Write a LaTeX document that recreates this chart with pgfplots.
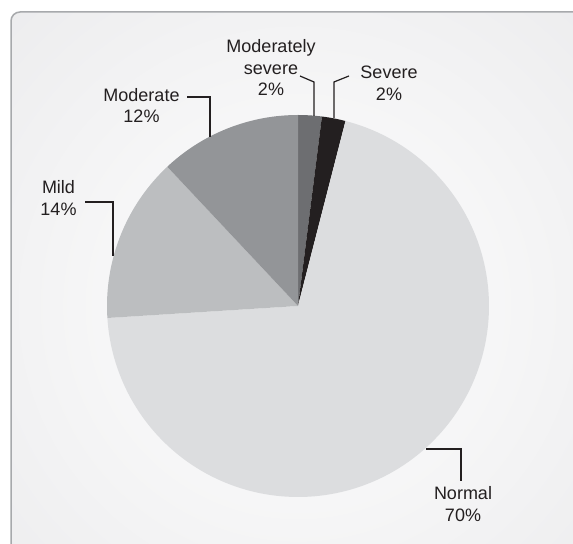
\documentclass[border=0pt]{standalone}
\usepackage{pgfplots}
\pgfplotsset{compat=1.18}
\usepackage{pgfplotstable}
\usepackage{fontspec}
\setmainfont{Liberation Sans}

\definecolor{cModSev}{HTML}{6D6E71}
\definecolor{cSevere}{HTML}{231F20}
\definecolor{cNormal}{HTML}{DCDDDF}
\definecolor{cMild}{HTML}{BCBEC0}
\definecolor{cModerate}{HTML}{939598}
\definecolor{cFrame}{HTML}{A7A9AC}
\definecolor{cBgOut}{HTML}{E6E6E8}
\definecolor{cLead}{HTML}{231F20}

% Severity distribution, in percent, clockwise from 12 o'clock
\pgfplotstableread[col sep=comma]{
label,value
Moderately severe,2
Severe,2
Normal,70
Mild,14
Moderate,12
}\severity

% cumulative slice boundaries (degrees), going clockwise from 90
\pgfmathsetmacro\aA{90}
\pgfplotstablegetelem{0}{value}\of\severity \pgfmathsetmacro\aB{\aA-3.6*\pgfplotsretval}
\pgfplotstablegetelem{1}{value}\of\severity \pgfmathsetmacro\aC{\aB-3.6*\pgfplotsretval}
\pgfplotstablegetelem{2}{value}\of\severity \pgfmathsetmacro\aD{\aC-3.6*\pgfplotsretval}
\pgfplotstablegetelem{3}{value}\of\severity \pgfmathsetmacro\aE{\aD-3.6*\pgfplotsretval}
\pgfplotstablegetelem{4}{value}\of\severity \pgfmathsetmacro\aF{\aE-3.6*\pgfplotsretval}

\newcommand\cx{298}
\newcommand\cy{238}
\newcommand\rr{191}
\newcommand\lbl{\fontsize{18bp}{21.5bp}\selectfont\color[HTML]{231F20}}

\begin{document}
\begin{tikzpicture}
\begin{axis}[
  scale only axis, width=573bp, height=544bp,
  xmin=0, xmax=573, ymin=0, ymax=544,
  hide axis, clip=false,
]
% page and framed panel with soft radial background
\fill[white] (0,0) rectangle (573,544);
\begin{scope}
  \clip[rounded corners=9bp] (11,-20) -- (11,532) -- (600,532) -- (600,-20) -- cycle;
  \shade[inner color=white, outer color=cBgOut] (\cx,\cy) circle (560);
\end{scope}
\draw[cFrame, line width=1.5bp, rounded corners=9bp] (11,-20) -- (11,532) -- (600,532);

% slices
\addplot[fill=cModSev, draw=none, domain=\aB:\aA, samples=8, variable=\t]
  ({\cx+\rr*cos(\t)},{\cy+\rr*sin(\t)}) -- (\cx,\cy) -- cycle;
\addplot[fill=cSevere, draw=none, domain=\aC:\aB, samples=8, variable=\t]
  ({\cx+\rr*cos(\t)},{\cy+\rr*sin(\t)}) -- (\cx,\cy) -- cycle;
\addplot[fill=cNormal, draw=none, domain=\aD:\aC, samples=150, variable=\t]
  ({\cx+\rr*cos(\t)},{\cy+\rr*sin(\t)}) -- (\cx,\cy) -- cycle;
\addplot[fill=cMild, draw=none, domain=\aE:\aD, samples=40, variable=\t]
  ({\cx+\rr*cos(\t)},{\cy+\rr*sin(\t)}) -- (\cx,\cy) -- cycle;
\addplot[fill=cModerate, draw=none, domain=\aF:\aE, samples=40, variable=\t]
  ({\cx+\rr*cos(\t)},{\cy+\rr*sin(\t)}) -- (\cx,\cy) -- cycle;

% leader lines
\draw[cLead, line width=1.2bp] (300,468) -- (314,462) -- (314,428);
\draw[cLead, line width=1.2bp] (349,468) -- (334,462) -- (334,426);
\draw[cLead, line width=1.2bp] (187,447) -- (210,447) -- (210,407);
\draw[cLead, line width=1.2bp] (85,342) -- (113,342) -- (113,288);
\draw[cLead, line width=1.2bp] (426,95) -- (461,95) -- (461,63);

% labels
\node[font=\lbl, align=center] at (271,476) {Moderately\\severe\\2\%};
\node[font=\lbl, align=center] at (389,460.5) {Severe\\2\%};
\node[font=\lbl, align=center] at (141.5,438.5) {Moderate\\12\%};
\node[font=\lbl, align=center] at (58.5,346) {Mild\\14\%};
\node[font=\lbl, align=center] at (463,40) {Normal\\70\%};
\end{axis}
\pgfresetboundingbox
\useasboundingbox (0,0) rectangle (573bp,544bp);
\end{tikzpicture}
\end{document}
